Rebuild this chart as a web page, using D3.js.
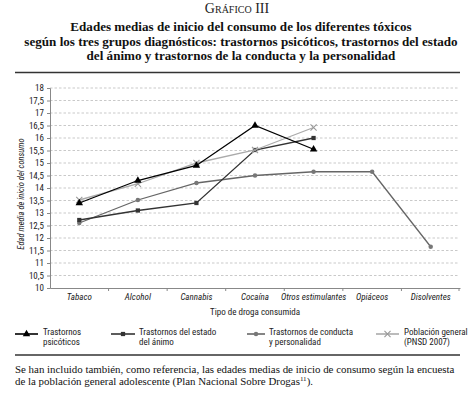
<!DOCTYPE html>
<html><head><meta charset="utf-8">
<script src="https://cdn.jsdelivr.net/npm/d3@7"></script>
<style>
body{margin:0;background:#fff;}
svg{display:block;}
</style></head>
<body>
<svg id="c" width="472" height="398"></svg>
<script>
const categories = ["Tabaco","Alcohol","Cannabis","Cocaína","Otros estimulantes","Opiáceos","Disolventes"];
const psicoticos = [13.4, 14.3, 14.9, 16.5, 15.55, null, null];
const animo = [12.72, 13.1, 13.4, 15.52, 16.0, null, null];
const conducta = [12.6, 13.52, 14.2, 14.5, 14.65, 14.65, 11.65];
const poblacion = [13.52, 14.17, 15.0, 15.52, 16.42, null, null];
const yTicks = [10,10.5,11,11.5,12,12.5,13,13.5,14,14.5,15,15.5,16,16.5,17,17.5,18];
const seriesNames = [["Trastornos","psicóticos"],["Trastornos del estado","del ánimo"],["Trastornos de conducta","y personalidad"],["Población general","(PNSD 2007)"]];

const svg = d3.select("#c");
const cond = "'Liberation Sans Narrow','Roboto Condensed','Arial Narrow',sans-serif";
const serif = "'Liberation Serif','Times New Roman',serif";

// Title
svg.append("text").attr("x",237).attr("y",13).attr("text-anchor","middle")
  .attr("font-family",serif).attr("font-size",14).style("font-variant","small-caps").attr("fill","#222")
  .text("Gráfico III");
const titleLines = ["Edades medias de inicio del consumo de los diferentes tóxicos",
  "según los tres grupos diagnósticos: trastornos psicóticos, trastornos del estado",
  "del ánimo y trastornos de la conducta y la personalidad"];
titleLines.forEach((t,i)=>{
  svg.append("text").attr("x",241).attr("y",31+i*14.5).attr("text-anchor","middle")
    .attr("font-family",serif).attr("font-weight","bold").attr("font-size",13.1).attr("fill","#111").text(t);
});
svg.append("line").attr("x1",15).attr("x2",460).attr("y1",72.5).attr("y2",72.5).attr("stroke","#333").attr("stroke-width",1.6);

// Scales
const x = d3.scaleBand().domain(categories).range([50,460]);
const y = d3.scaleLinear().domain([10,18]).range([288,88]);

// grid
svg.append("g").selectAll("line").data(yTicks.filter(d=>d>10)).join("line")
  .attr("x1",50).attr("x2",458).attr("y1",d=>y(d)).attr("y2",d=>y(d))
  .attr("stroke","#bbb").attr("stroke-width",0.8).attr("stroke-dasharray","2.5,2");

// y axis
const yAxis = d3.axisLeft(y).tickValues(yTicks).tickSize(3).tickPadding(3)
  .tickFormat(d=>String(d).replace(".",","));
const gy = svg.append("g").attr("transform","translate(50,0)").call(yAxis);
gy.select(".domain").attr("stroke","#888");
gy.selectAll(".tick line").attr("stroke","#888");
gy.selectAll("text").attr("font-family",cond).attr("font-size",9).attr("fill","#222");

// x axis
const xAxis = d3.axisBottom(x).tickSize(0).tickPadding(6);
const gx = svg.append("g").attr("transform","translate(0,288)").call(xAxis);
gx.select(".domain").attr("stroke","#888");
gx.selectAll("text").attr("font-family",cond).attr("font-size",9).attr("font-style","italic").attr("fill","#222");
// boundary ticks
svg.append("g").selectAll("line").data(categories.slice(1).concat(["__end"])).join("line")
  .attr("x1",d=>d==="__end"?x.range()[1]-1:x(d)).attr("x2",d=>d==="__end"?x.range()[1]-1:x(d))
  .attr("y1",288).attr("y2",291).attr("stroke","#888");

// axis titles
svg.append("text").attr("x",255).attr("y",315).attr("text-anchor","middle")
  .attr("font-family",cond).attr("font-size",9).attr("fill","#222").text("Tipo de droga consumida");
svg.append("text").attr("transform","translate(24,194) rotate(-90)").attr("text-anchor","middle")
  .attr("font-family",cond).attr("font-size",8.5).attr("font-style","italic").attr("fill","#222")
  .text("Edad media de inicio del consumo");

const cx = c => x(c)+x.bandwidth()/2;
const styles = [
  {data:psicoticos, color:"#000", mcolor:"#000", w:1.3, marker:"triangle"},
  {data:animo, color:"#333", mcolor:"#333", w:1.3, marker:"square"},
  {data:conducta, color:"#666", mcolor:"#777", w:1.3, marker:"circle"},
  {data:poblacion, color:"#aaa", mcolor:"#999", w:1.3, marker:"cross"}
];
const line = d3.line().defined(d=>d.v!=null).x(d=>cx(d.c)).y(d=>y(d.v));
function drawMarker(g, type, px, py, col){
  if(type==="triangle"){
    g.append("path").attr("d",d3.symbol(d3.symbolTriangle,24)()).attr("transform",`translate(${px},${py})`).attr("fill",col);
  } else if(type==="square"){
    g.append("path").attr("d",d3.symbol(d3.symbolSquare,18)()).attr("transform",`translate(${px},${py})`).attr("fill",col);
  } else if(type==="circle"){
    g.append("path").attr("d",d3.symbol(d3.symbolCircle,16)()).attr("transform",`translate(${px},${py})`).attr("fill",col);
  } else {
    g.append("path").attr("d",d3.symbol(d3.symbolTimes,26)()).attr("transform",`translate(${px},${py})`).attr("fill","none").attr("stroke",col).attr("stroke-width",1.1);
  }
}
// draw in order: conducta, animo, poblacion, psicoticos
[2,1,3,0].forEach(i=>{
  const s = styles[i];
  const pts = categories.map((c,j)=>({c, v:s.data[j]}));
  const g = svg.append("g");
  g.append("path").datum(pts).attr("d",line).attr("fill","none").attr("stroke",s.color).attr("stroke-width",s.w);
  pts.filter(p=>p.v!=null).forEach(p=>drawMarker(g, s.marker, cx(p.c), y(p.v), s.mcolor));
});

// legend
const legX = [[15,38,43],[111,135,139],[247,265,269],[376,399,404]];
styles.forEach((s,i)=>{
  const [a,b,t] = legX[i];
  const g = svg.append("g");
  g.append("line").attr("x1",a).attr("x2",b).attr("y1",334).attr("y2",334).attr("stroke",s.color).attr("stroke-width",1.6);
  drawMarker(g, s.marker, (a+b)/2, 334, s.mcolor);
  seriesNames[i].forEach((n,k)=>{
    g.append("text").attr("x",t).attr("y",335+k*10).attr("font-family",cond).attr("font-size",9).attr("fill","#222").text(n);
  });
});
svg.append("line").attr("x1",15).attr("x2",460).attr("y1",355).attr("y2",355).attr("stroke","#333").attr("stroke-width",1.6);

// footnote
const fn = svg.append("text").attr("font-family",serif).attr("font-size",10.9).attr("fill","#111");
fn.append("tspan").attr("x",15).attr("y",373).text("Se han incluido también, como referencia, las edades medias de inicio de consumo según la encuesta");
const l2 = fn.append("tspan").attr("x",15).attr("y",385).text("de la población general adolescente (Plan Nacional Sobre Drogas");
fn.append("tspan").attr("font-size",7).attr("dy",-4).text("11");
fn.append("tspan").attr("dy",4).text(").");
</script>
</body></html>
